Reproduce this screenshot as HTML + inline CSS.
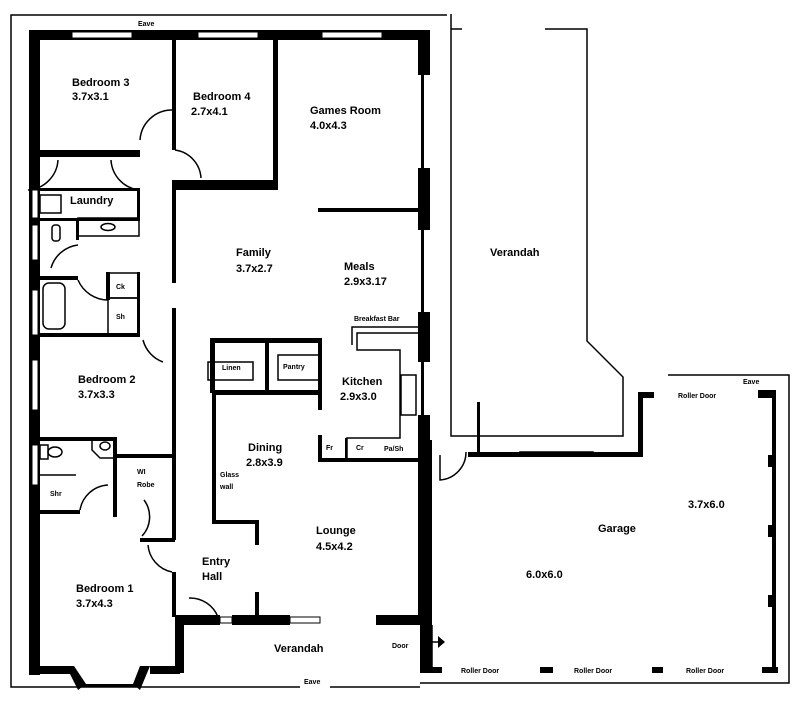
<!DOCTYPE html>
<html><head><meta charset="utf-8"><style>
html,body{margin:0;padding:0;background:#fff;}
svg{display:block;}
text{font-family:"Liberation Sans",sans-serif;fill:#000;}
.l{font-size:11px;font-weight:bold;}
.s{font-size:7px;font-weight:bold;}
</style></head><body>
<svg width="800" height="704" viewBox="0 0 800 704" xmlns="http://www.w3.org/2000/svg">
<g fill="none" stroke="#000" stroke-width="1.5">
<polyline points="447,15 11,15 11,687 300,687"/>
<line x1="330" y1="687" x2="420" y2="687"/>
<polyline points="420,683 789,683 789,375 668,375"/>
<polyline points="451,14 451,436 623,436 623,377 587,341 587,29 545,29"/>
<line x1="451" y1="29" x2="462" y2="29"/>
<path d="M140,140 A32,32 0 0 1 172,110"/>
<path d="M175,150 A30,30 0 0 1 201,178"/>
<path d="M58,160 A32,32 0 0 1 28,190"/>
<path d="M111,160 A32,32 0 0 0 139,190"/>
<path d="M51,268 A32,32 0 0 1 78,245"/>
<path d="M78,280 A33,33 0 0 0 108,300"/>
<path d="M143,340 A32,32 0 0 0 163,362"/>
<path d="M80,510 A30,30 0 0 1 108,485"/>
<path d="M144,500 A28,28 0 0 1 142,536"/>
<path d="M148,545 A30,30 0 0 0 172,572"/>
<path d="M189,598 A30,30 0 0 1 218,617"/>
<path d="M440,455 L440,480 A28,28 0 0 0 466,452"/>
<rect x="40" y="195" width="21" height="18"/>
<rect x="43" y="283" width="22" height="46" rx="6"/>
<rect x="52" y="225" width="8" height="16" rx="3"/>
<ellipse cx="108" cy="227" rx="7" ry="3.5"/>
<rect x="78" y="218" width="61" height="18"/>
<rect x="108" y="273" width="31" height="25"/>
<rect x="108" y="298" width="31" height="37"/>
<rect x="208" y="362" width="45" height="18"/>
<rect x="278" y="355" width="42" height="25"/>
<polyline points="352,345 352,327 420,327"/>
<polyline points="357,345 357,333 420,333"/>
<polyline points="357,345 357,350 400,350 400,438 347,438 347,458"/>
<rect x="401" y="375" width="15" height="40"/>
<line x1="40" y1="475" x2="76" y2="475"/>
<rect x="40" y="445" width="8" height="14"/>
<ellipse cx="55" cy="452" rx="7" ry="5"/>
<path d="M92,441 L92,450 L100,458 L113,458"/>
<ellipse cx="105" cy="446" rx="5" ry="4"/>
<polyline points="423,625 423,673"/>
<line x1="432" y1="625" x2="432" y2="673"/>
<line x1="420" y1="642" x2="440" y2="642"/>
<rect x="520" y="452" width="73" height="4"/>
</g>
<g fill="#000">
<rect x="29" y="30" width="401" height="10"/>
<rect x="29" y="30" width="11" height="645"/>
<rect x="40" y="150" width="100" height="7"/>
<rect x="172" y="40" width="4" height="110"/>
<rect x="172" y="180" width="4" height="103"/>
<rect x="172" y="308" width="4" height="232"/>
<rect x="172" y="180" width="106" height="10"/>
<rect x="273" y="40" width="5" height="150"/>
<rect x="418" y="30" width="12" height="45"/>
<rect x="421" y="75" width="3" height="95"/>
<rect x="418" y="168" width="12" height="62"/>
<rect x="421" y="230" width="3" height="82"/>
<rect x="418" y="312" width="12" height="50"/>
<rect x="421" y="362" width="3" height="55"/>
<rect x="418" y="415" width="12" height="210"/>
<rect x="318" y="208" width="102" height="4"/>
<rect x="30" y="188" width="110" height="3"/>
<rect x="137" y="188" width="3" height="32"/>
<rect x="40" y="218" width="100" height="3"/>
<rect x="76" y="218" width="3" height="22"/>
<rect x="40" y="276" width="38" height="4"/>
<rect x="106" y="272" width="4" height="28"/>
<rect x="137" y="272" width="3" height="65"/>
<rect x="40" y="333" width="100" height="4"/>
<rect x="40" y="437" width="75" height="4"/>
<rect x="113" y="437" width="4" height="80"/>
<rect x="115" y="454" width="60" height="4"/>
<rect x="40" y="510" width="40" height="4"/>
<rect x="140" y="538" width="35" height="4"/>
<rect x="172" y="572" width="4" height="45"/>
<rect x="175" y="615" width="9" height="58"/>
<rect x="29" y="666" width="45" height="8"/>
<polygon points="66,666 74,666 86,684 78,690"/>
<polygon points="140,666 150,666 140,690 133,684"/>
<rect x="150" y="666" width="30" height="8"/>
<rect x="80" y="684" width="60" height="3"/>
<rect x="183" y="615" width="37" height="10"/>
<rect x="232" y="615" width="58" height="10"/>
<rect x="376" y="615" width="54" height="10"/>
<rect x="255" y="592" width="4" height="23"/>
<rect x="210" y="338" width="112" height="5"/>
<rect x="210" y="338" width="5" height="55"/>
<rect x="265" y="338" width="4" height="54"/>
<rect x="318" y="338" width="4" height="72"/>
<rect x="212" y="390" width="110" height="5"/>
<rect x="212" y="390" width="4" height="133"/>
<rect x="212" y="520" width="46" height="4"/>
<rect x="255" y="520" width="4" height="25"/>
<rect x="318" y="435" width="4" height="27"/>
<rect x="318" y="458" width="102" height="4"/>
<rect x="345" y="438" width="2" height="22"/>
<rect x="420" y="440" width="12" height="233"/>
<rect x="420" y="667" width="22" height="6"/>
<rect x="540" y="667" width="13" height="6"/>
<rect x="652" y="667" width="11" height="6"/>
<rect x="762" y="667" width="16" height="6"/>
<rect x="772" y="390" width="4" height="283"/>
<rect x="758" y="390" width="18" height="8"/>
<rect x="638" y="392" width="16" height="6"/>
<rect x="638" y="392" width="5" height="65"/>
<rect x="468" y="452" width="175" height="5"/>
<rect x="477" y="402" width="3" height="53"/>
<rect x="768" y="455" width="5" height="12"/>
<rect x="768" y="525" width="5" height="12"/>
<rect x="768" y="595" width="5" height="12"/>
<polygon points="438,636 445,642 438,648"/>
</g>
<g fill="#fff" stroke="#000" stroke-width="1">
<rect x="72" y="32" width="60" height="6"/>
<rect x="198" y="32" width="60" height="6"/>
<rect x="322" y="32" width="60" height="6"/>
<rect x="32" y="190" width="6" height="28"/>
<rect x="32" y="225" width="6" height="35"/>
<rect x="32" y="290" width="6" height="45"/>
<rect x="32" y="360" width="6" height="50"/>
<rect x="32" y="445" width="6" height="40"/>
<rect x="220" y="617" width="12" height="6"/>
<rect x="290" y="617" width="30" height="6"/>
</g>
<g class="l">
<text x="72" y="86">Bedroom 3</text><text x="72" y="100">3.7x3.1</text>
<text x="193" y="100">Bedroom 4</text><text x="191" y="115">2.7x4.1</text>
<text x="310" y="114">Games Room</text><text x="310" y="129">4.0x4.3</text>
<text x="70" y="204">Laundry</text>
<text x="236" y="256">Family</text><text x="236" y="272">3.7x2.7</text>
<text x="344" y="270">Meals</text><text x="344" y="285">2.9x3.17</text>
<text x="490" y="256">Verandah</text>
<text x="342" y="385">Kitchen</text><text x="340" y="400">2.9x3.0</text>
<text x="78" y="383">Bedroom 2</text><text x="78" y="398">3.7x3.3</text>
<text x="248" y="451">Dining</text><text x="246" y="466">2.8x3.9</text>
<text x="316" y="534">Lounge</text><text x="316" y="550">4.5x4.2</text>
<text x="202" y="565">Entry</text><text x="202" y="580">Hall</text>
<text x="76" y="592">Bedroom 1</text><text x="76" y="607">3.7x4.3</text>
<text x="274" y="652">Verandah</text>
<text x="598" y="532">Garage</text>
<text x="688" y="508">3.7x6.0</text>
<text x="526" y="578">6.0x6.0</text>
</g>
<g class="s">
<text x="138" y="26">Eave</text>
<text x="354" y="321">Breakfast Bar</text>
<text x="116" y="289">Ck</text><text x="116" y="319">Sh</text>
<text x="222" y="370">Linen</text><text x="283" y="369">Pantry</text>
<text x="137" y="474">WI</text><text x="137" y="487">Robe</text>
<text x="50" y="496">Shr</text>
<text x="220" y="477">Glass</text><text x="220" y="489">wall</text>
<text x="326" y="450">Fr</text><text x="356" y="450">Cr</text><text x="384" y="451">Pa/Sh</text>
<text x="392" y="648">Door</text>
<text x="304" y="684">Eave</text>
<text x="678" y="398">Roller Door</text>
<text x="743" y="384">Eave</text>
<text x="461" y="673">Roller Door</text>
<text x="574" y="673">Roller Door</text>
<text x="686" y="673">Roller Door</text>
</g>
</svg>
</body></html>
